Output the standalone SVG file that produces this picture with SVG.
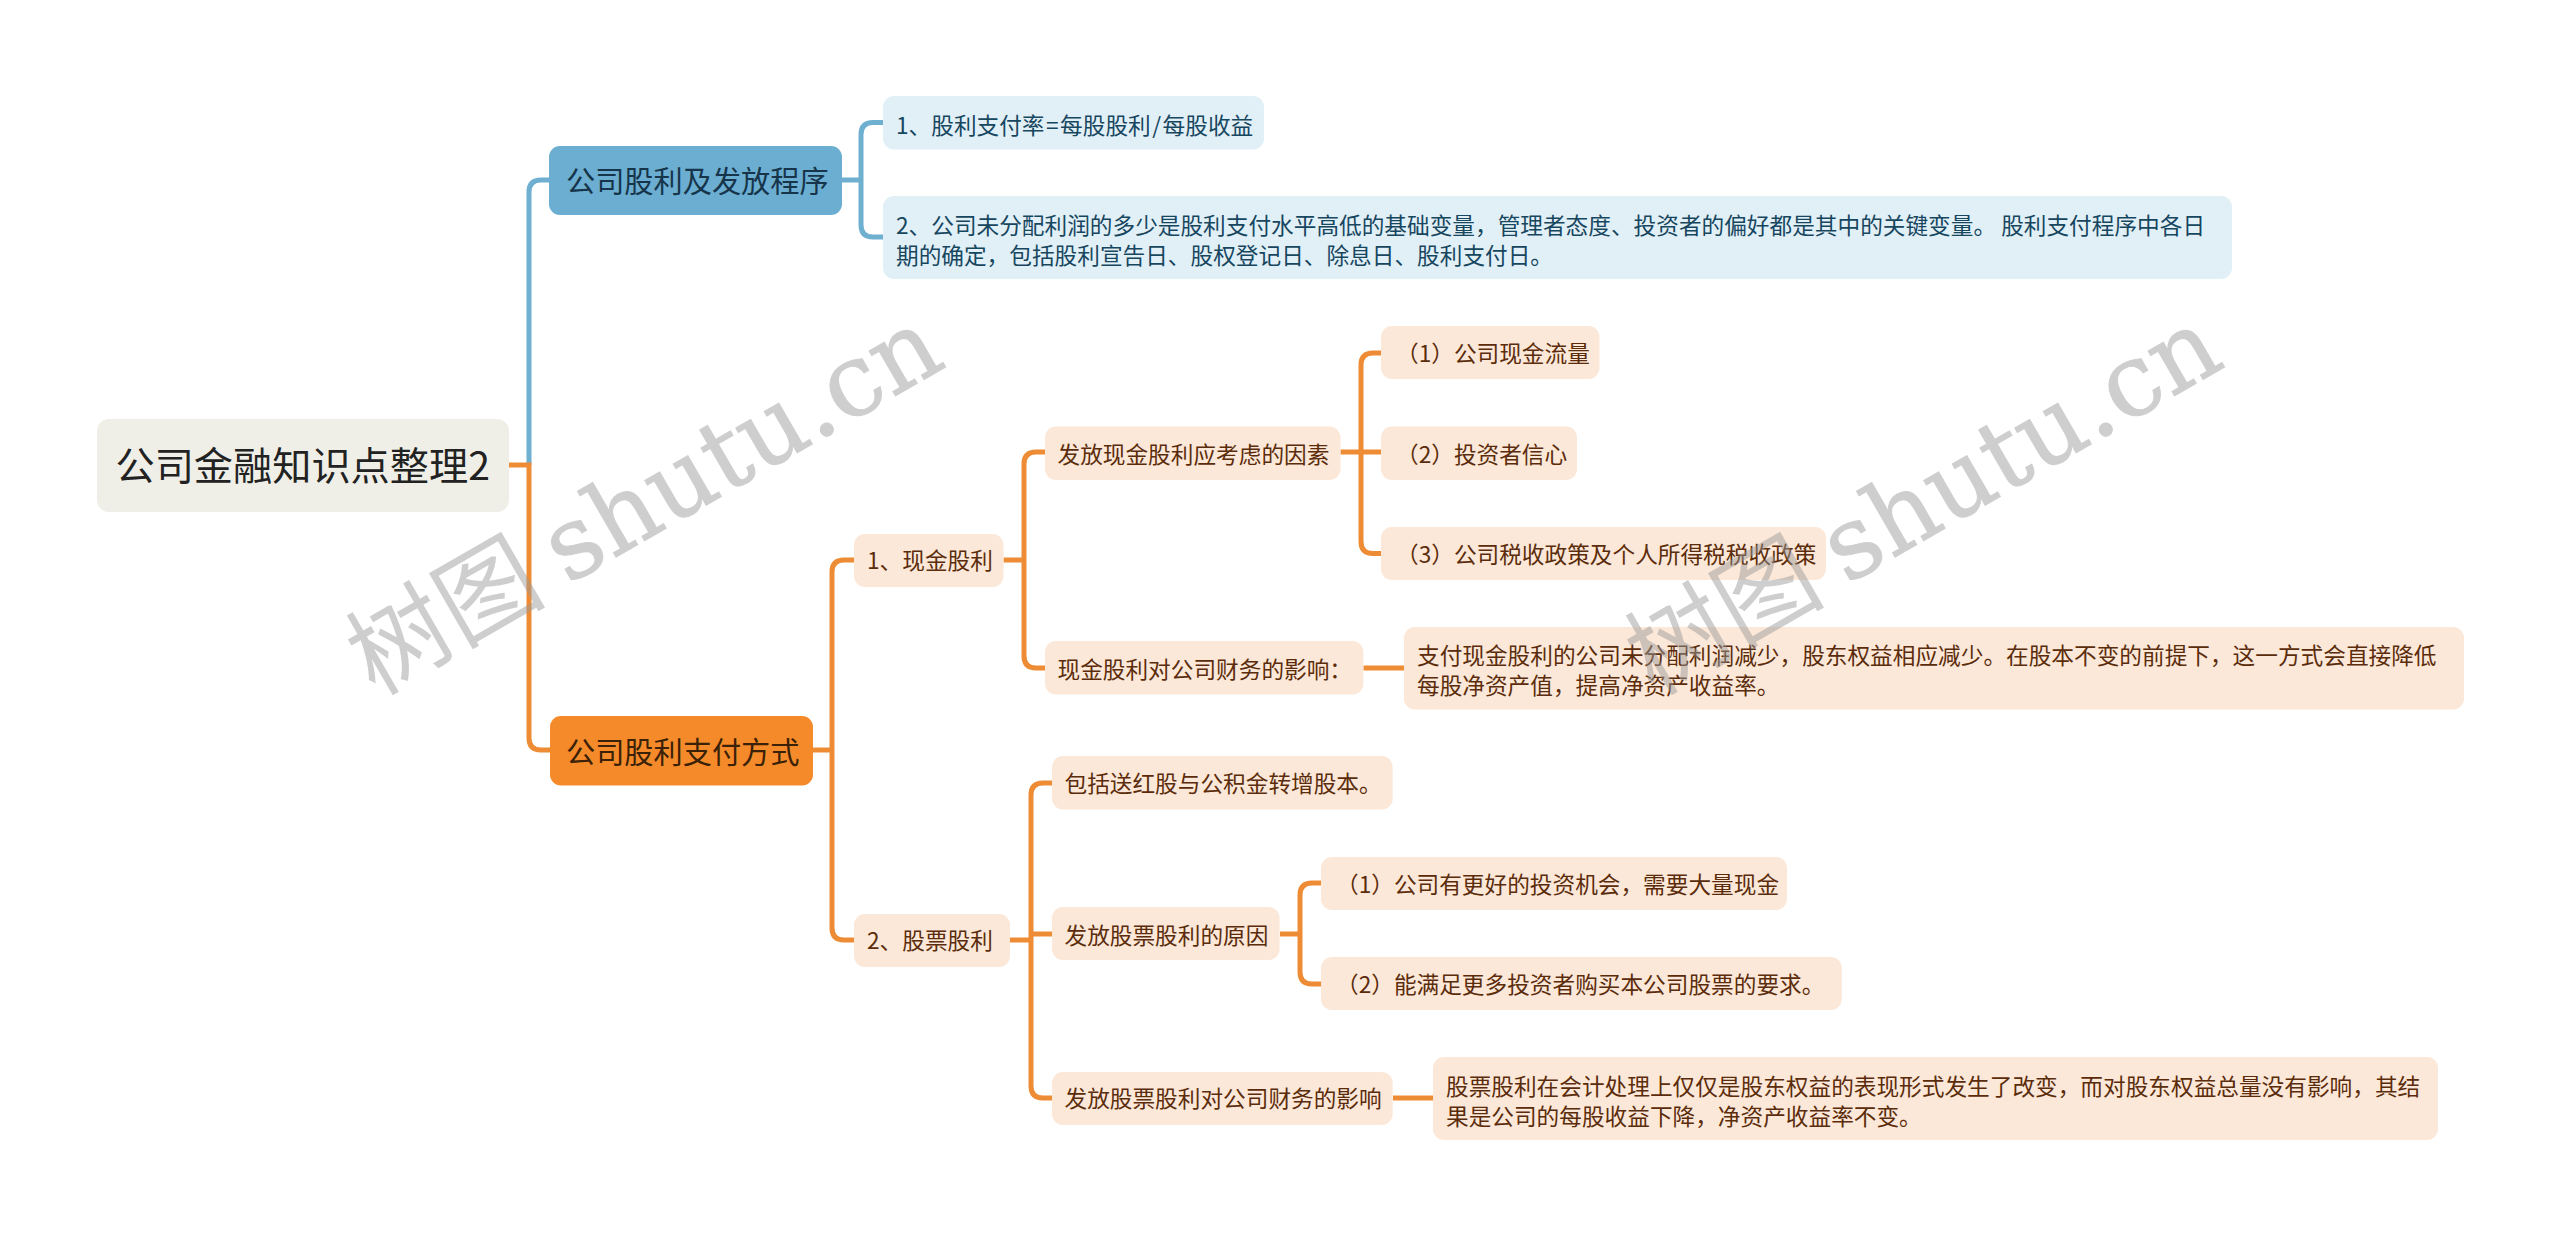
<svg xmlns="http://www.w3.org/2000/svg" width="2560" height="1236" viewBox="0 0 2560 1236">
<style>
text{font-family:"Noto Sans CJK SC","Noto Sans",sans-serif}
.c{fill:none;stroke-width:5}
.cb{stroke:#6FAFD0}
.co{stroke:#EE8C35}
.root{fill:#EFEFE7}
.b1{fill:#6BAED1}
.o1{fill:#F58A2A}
.lb{fill:#E1F0F7}
.lo{fill:#FCE8D8}
.troot{font-size:39.2px;fill:#222}
.tb1{font-size:29.2px;fill:#16344a}
.to1{font-size:29.2px;fill:#3a2108}
.tb{font-size:22.67px;fill:#17465f}
.to{font-size:22.67px;fill:#5B2C0B}
.wm{font-family:"DejaVu Serif","Noto Sans CJK SC",serif;font-size:100px;fill:#999;opacity:.47}
.wl{font-size:100.500px;stroke:#999;stroke-width:1px}
</style>
<g id="connectors">
<path class="c cb" d="M529 465V192Q529 180 541 180H549"/>
<path class="c cb" d="M842 180H861M883 122.500H873Q861 122.500 861 134.500V225Q861 237 873 237H883"/>
<path class="c co" d="M509 465H529V738Q529 750 541 750H550"/>
<path class="c co" d="M813 750H832M854 560H844Q832 560 832 572V928Q832 940 844 940H854"/>
<path class="c co" d="M1003.500 560H1024M1045 452H1036Q1024 452 1024 464V656Q1024 668 1036 668H1045"/>
<path class="c co" d="M1340.500 452H1381M1381 353H1373Q1361 353 1361 365V541.500Q1361 553.500 1373 553.500H1381"/>
<path class="c co" d="M1363.400 668H1404"/>
<path class="c co" d="M1010 940H1031M1052 783H1043Q1031 783 1031 795V1086Q1031 1098 1043 1098H1052M1031 934H1052"/>
<path class="c co" d="M1280 934H1300M1321 883H1312Q1300 883 1300 895V972Q1300 984 1312 984H1321"/>
<path class="c co" d="M1393 1098H1433"/>
</g>
<g id="root"><rect class="root" x="97" y="419" width="412" height="93" rx="12"/><text class="troot" x="115.500" y="480">公司金融知识点整理2</text></g>
<g id="n1"><rect class="b1" x="549" y="146" width="293" height="69" rx="11"/><text class="tb1" x="566" y="191.500">公司股利及发放程序</text></g>
<g id="n1-1"><rect class="lb" x="883" y="96" width="381" height="53.500" rx="11"/><text class="tb" x="896" y="134">1、股利支付率<tspan dx="1.500">=</tspan><tspan dx="1.500">每股股利</tspan><tspan dx="1.500">/</tspan><tspan dx="1.500">每股收益</tspan></text></g>
<g id="n1-2"><rect class="lb" x="883" y="196" width="1349" height="83" rx="11"/><text class="tb" x="896" y="234">2、公司未分配利润的多少是股利支付水平高低的基础变量，管理者态度、投资者的偏好都是其中的关键变量。 股利支付程序中各日</text><text class="tb" x="896" y="264">期的确定，包括股利宣告日、股权登记日、除息日、股利支付日。</text></g>
<g id="n2"><rect class="o1" x="550" y="716" width="263" height="69.500" rx="11"/><text class="to1" x="566" y="763">公司股利支付方式</text></g>
<g id="n2-1"><rect class="lo" x="854" y="534" width="149.500" height="53" rx="11"/><text class="to" x="867" y="569">1、现金股利</text></g>
<g id="n2-1-1"><rect class="lo" x="1045" y="426.500" width="295.500" height="53.500" rx="11"/><text class="to" x="1057.500" y="463">发放现金股利应考虑的因素</text></g>
<g id="n2-1-1-1"><rect class="lo" x="1381" y="326" width="218.500" height="53" rx="11"/><text class="to" x="1396" y="362">（1）公司现金流量</text></g>
<g id="n2-1-1-2"><rect class="lo" x="1381" y="426.500" width="196" height="53.500" rx="11"/><text class="to" x="1396" y="463">（2）投资者信心</text></g>
<g id="n2-1-1-3"><rect class="lo" x="1381" y="527" width="445" height="53" rx="11"/><text class="to" x="1396" y="563">（3）公司税收政策及个人所得税税收政策</text></g>
<g id="n2-1-2"><rect class="lo" x="1045" y="641" width="318.400" height="53.500" rx="11"/><text class="to" x="1057.500" y="678">现金股利对公司财务的影响：</text></g>
<g id="n2-1-2-1"><rect class="lo" x="1404" y="627" width="1060" height="82.500" rx="11"/><text class="to" x="1417" y="664">支付现金股利的公司未分配利润减少，股东权益相应减少。在股本不变的前提下，这一方式会直接降低</text><text class="to" x="1417" y="694">每股净资产值，提高净资产收益率。</text></g>
<g id="n2-2"><rect class="lo" x="854" y="914" width="156" height="53" rx="11"/><text class="to" x="867" y="949">2、股票股利</text></g>
<g id="n2-2-1"><rect class="lo" x="1052" y="756" width="340.700" height="53.500" rx="11"/><text class="to" x="1064.500" y="792">包括送红股与公积金转增股本。</text></g>
<g id="n2-2-2"><rect class="lo" x="1052" y="907" width="227.600" height="53" rx="11"/><text class="to" x="1064.500" y="944">发放股票股利的原因</text></g>
<g id="n2-2-2-1"><rect class="lo" x="1321" y="857" width="466" height="53" rx="11"/><text class="to" x="1336" y="893">（1）公司有更好的投资机会，需要大量现金</text></g>
<g id="n2-2-2-2"><rect class="lo" x="1321" y="957" width="520.800" height="53" rx="11"/><text class="to" x="1336" y="993">（2）能满足更多投资者购买本公司股票的要求。</text></g>
<g id="n2-2-3"><rect class="lo" x="1052" y="1072" width="340.700" height="53" rx="11"/><text class="to" x="1064.500" y="1107">发放股票股利对公司财务的影响</text></g>
<g id="n2-2-3-1"><rect class="lo" x="1433" y="1057" width="1005" height="83" rx="11"/><text class="to" x="1446" y="1095">股票股利在会计处理上仅仅是股东权益的表现形式发生了改变，而对股东权益总量没有影响，其结</text><text class="to" x="1446" y="1125">果是公司的每股收益下降，净资产收益率不变。</text></g>
<g id="watermarks">
<text class="wm" transform="translate(374.800 696.500) rotate(-30)">树图 <tspan class="wl" dx="-9">shutu.cn</tspan></text>
<text class="wm" transform="translate(1653.800 696.500) rotate(-30)">树图 <tspan class="wl" dx="-9">shutu.cn</tspan></text>
</g>
</svg>
